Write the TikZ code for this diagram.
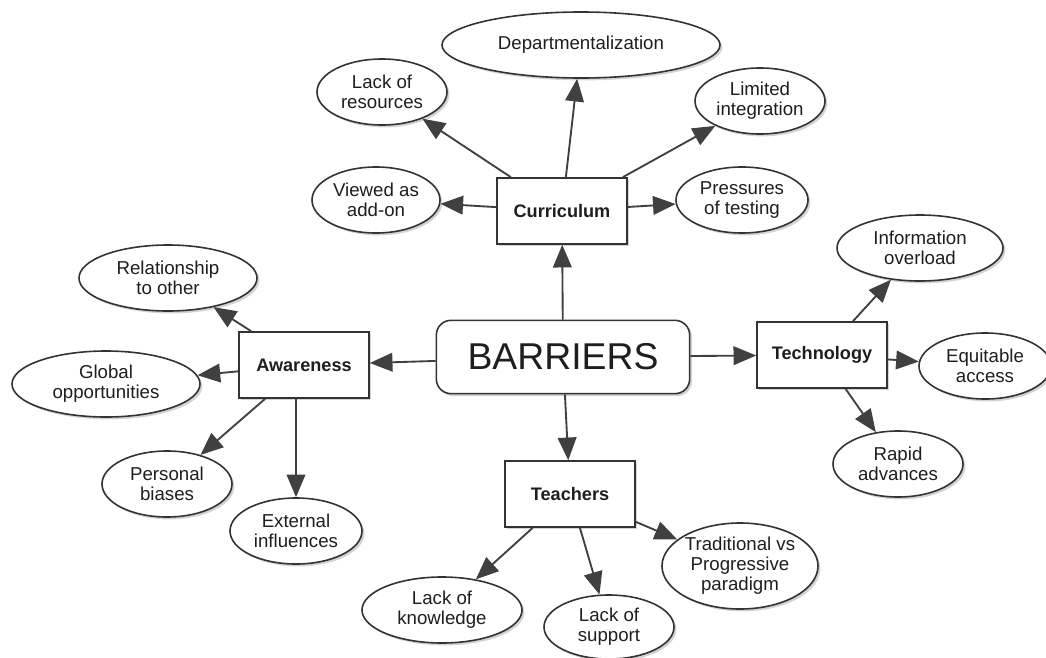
\documentclass[tikz,border=0pt]{standalone}
\usepackage{fontspec}
\setmainfont{Liberation Sans}
\usetikzlibrary{shapes.geometric,arrows.meta,shadows}
\definecolor{linegray}{HTML}{404040}
\definecolor{edgegray}{HTML}{333333}
\definecolor{txt}{HTML}{1E1E1E}
\begin{document}
\begin{tikzpicture}[x=0.75pt,y=-0.75pt,
  shad/.style={drop shadow={opacity=0.35,shadow xshift=1.8pt,shadow yshift=-1.8pt}},
  leaf/.style={ellipse,draw=edgegray,line width=1.2pt,fill=white,shad,inner sep=0pt,
    minimum width=97.5pt,minimum height=49.5pt,align=center,text=txt,
    font=\fontsize{14}{15}\selectfont},
  cat/.style={rectangle,draw=edgegray,line width=1.2pt,fill=white,shad,inner sep=0pt,
    minimum width=97.5pt,minimum height=49.5pt,align=center,text=txt,
    font=\fontsize{13.6}{15}\selectfont\bfseries},
  root/.style={rectangle,rounded corners=11pt,draw=edgegray,line width=1.2pt,fill=white,shad,
    minimum width=190pt,minimum height=55pt,text=txt,font=\fontsize{28}{30}\selectfont},
  arr/.style={draw=linegray,line width=1.4pt,-{Triangle[length=17pt,width=14pt]},color=linegray}]
\useasboundingbox (0,0) rectangle (1046,657);
% root
\node[root] (bar) at (563,357) {BARRIERS};
% categories
\node[cat] (cur) at (562,211) {Curriculum};
\node[cat] (awa) at (304,365) {Awareness};
\node[cat] (tec) at (822,355) {Technology};
\node[cat] (tea) at (570,494) {Teachers};
% curriculum leaves
\node[leaf,minimum width=208.5pt] (dep) at (581,45) {Departmentalization};
\node[leaf] (res) at (382,92) {Lack of\\resources};
\node[leaf] (lim) at (760,101) {Limited\\integration};
\node[leaf,minimum width=96pt] (add) at (376,200) {Viewed as\\add-on};
\node[leaf,minimum width=99pt] (pre) at (742,200) {Pressures\\of testing};
% awareness leaves
\node[leaf,minimum width=133.5pt] (rel) at (168,278) {Relationship\\to other};
\node[leaf,minimum width=141pt] (glo) at (106,384) {Global\\opportunities};
\node[leaf] (per) at (167,484) {Personal\\biases};
\node[leaf,minimum width=99pt] (ext) at (296,531) {External\\influences};
% technology leaves
\node[leaf,minimum width=124.5pt] (inf) at (920,248) {Information\\overload};
\node[leaf,minimum width=99pt] (equ) at (985,366) {Equitable\\access};
\node[leaf] (rap) at (898,464) {Rapid\\advances};
% teachers leaves
\node[leaf,minimum width=109.5pt,minimum height=64.5pt] (tra) at (740,566) {Traditional vs\\Progressive\\paradigm};
\node[leaf,minimum width=120pt] (kno) at (442,610) {Lack of\\knowledge};
\node[leaf,minimum height=48pt] (sup) at (609,627) {Lack of\\support};
% connectors
\draw[arr] (bar) -- (cur);
\draw[arr] (bar) -- (awa);
\draw[arr] (bar) -- (tec);
\draw[arr] (bar) -- (tea);
\draw[arr] (cur) -- (dep);
\draw[arr] (cur) -- (res);
\draw[arr] (cur) -- (lim);
\draw[arr] (cur) -- (add);
\draw[arr] (cur) -- (pre);
\draw[arr] (awa) -- (rel);
\draw[arr] (awa) -- (glo);
\draw[arr] (awa) -- (per);
\draw[arr] (awa.south -| ext) -- (ext);
\draw[arr] (tec) -- (inf);
\draw[arr] (tec) -- (equ);
\draw[arr] (tec) -- (rap);
\draw[arr] (tea) -- (tra);
\draw[arr] (tea) -- (kno);
\draw[arr] (tea) -- (sup);
\end{tikzpicture}
\end{document}
